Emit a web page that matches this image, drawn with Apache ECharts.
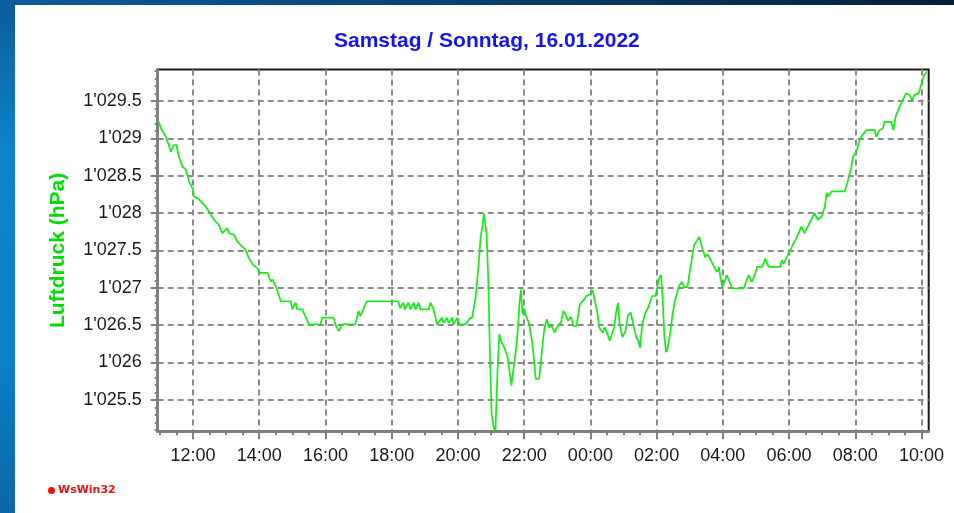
<!DOCTYPE html>
<html><head><meta charset="utf-8">
<script src="https://cdn.jsdelivr.net/npm/echarts@6/dist/echarts.min.js"></script>
<style>html,body{margin:0;padding:0;background:#fff}#c{width:954px;height:513px}</style>
</head><body><div id="c"></div>
<script>
const titleText = 'Samstag / Sonntag, 16.01.2022';
const yAxisName = 'Luftdruck (hPa)';
const watermark = 'WsWin32';

const times = [
'10:58','11:02','11:11','11:20','11:25','11:30','11:34','11:41','11:47','11:53','11:59',
'12:02','12:11','12:20','12:29','12:38','12:47','12:53','13:02','13:05','13:14','13:20','13:29','13:35','13:41','13:48','13:57',
'14:00','14:15','14:21','14:24','14:30','14:39','14:57','15:00','15:06','15:09','15:18','15:30','15:51','15:54',
'16:15','16:18','16:24','16:30','16:54','17:00','17:03','17:15','18:12','18:15','18:21','18:24','18:30','18:34','18:40','18:43','18:49','18:52',
'19:07','19:10','19:16','19:22','19:31','19:34','19:40','19:43','19:50','19:52','19:59','20:03','20:14',
'20:20','20:26','20:29','20:32','20:35','20:38','20:41','20:44','20:47','20:50','20:52','20:55','20:58',
'21:01','21:05','21:08','21:12','21:15','21:18','21:24','21:30','21:34','21:37','21:41','21:45','21:48','21:51','21:54','21:57',
'22:00','22:03','22:09','22:15','22:18','22:21','22:27','22:30','22:34','22:37','22:41','22:45','22:50','22:55',
'23:01','23:07','23:11','23:16','23:19','23:25','23:29','23:35','23:41','23:47','23:53',
'00:01','00:04','00:08','00:13','00:16','00:22','00:26','00:31','00:35','00:43','00:47','00:50','00:53','00:58',
'01:04','01:08','01:13','01:16','01:19','01:23','01:27','01:30','01:34','01:39','01:45','01:52','01:58',
'02:05','02:08','02:11','02:14','02:17','02:20','02:24','02:29','02:34','02:41','02:46','02:50','02:56','02:59',
'03:04','03:08','03:13','03:17','03:20','03:23','03:28','03:32','03:37','03:44','03:50','03:53','03:56','03:59',
'04:04','04:07','04:11','04:17','04:38','04:43','04:47','04:52','04:58',
'05:02','05:11','05:17','05:23','05:44','05:47','05:50','05:56',
'06:02','06:07','06:13','06:18','06:22','06:28','06:34','06:40','06:46','06:52','06:59',
'07:05','07:08','07:11','07:17','07:41','07:47','07:53','07:56',
'08:02','08:08','08:11','08:20','08:35','08:38','08:44','08:50','08:53',
'09:05','09:09','09:13','09:20','09:26','09:32','09:38','09:43','09:47','09:55','09:59',
'10:05','10:10'
];
const pressure = [
1029.22,1029.13,1029.02,1028.82,1028.91,1028.91,1028.76,1028.62,1028.58,1028.42,1028.33,
1028.22,1028.18,1028.11,1028.02,1027.91,1027.84,1027.73,1027.80,1027.73,1027.71,1027.62,1027.55,1027.51,1027.40,1027.31,1027.26,
1027.20,1027.20,1027.08,1027.11,1027.02,1026.82,1026.82,1026.71,1026.80,1026.71,1026.71,1026.51,1026.51,1026.60,
1026.60,1026.51,1026.42,1026.51,1026.51,1026.69,1026.62,1026.82,1026.82,1026.73,1026.80,1026.71,1026.80,1026.71,1026.80,1026.71,1026.80,1026.71,
1026.71,1026.80,1026.71,1026.51,1026.60,1026.53,1026.60,1026.53,1026.60,1026.51,1026.60,1026.51,1026.51,
1026.58,1026.61,1026.74,1026.87,1027.10,1027.36,1027.67,1027.81,1027.99,1027.99,1027.72,1027.10,1026.11,
1025.31,1025.13,1025.09,1025.94,1026.38,1026.29,1026.20,1026.07,1025.85,1025.69,1025.94,1026.16,1026.38,1026.74,1026.98,1026.65,
1026.72,1026.63,1026.52,1026.25,1026.03,1025.78,1025.78,1025.98,1026.29,1026.47,1026.58,1026.47,1026.49,1026.40,
1026.49,1026.54,1026.69,1026.63,1026.56,1026.61,1026.49,1026.49,1026.78,1026.83,1026.89,
1026.92,1026.97,1026.83,1026.65,1026.47,1026.40,1026.47,1026.38,1026.29,1026.47,1026.69,1026.80,1026.51,1026.34,
1026.43,1026.63,1026.67,1026.69,1026.47,1026.34,1026.29,1026.20,1026.51,1026.65,1026.74,1026.89,1026.89,
1027.14,1027.17,1026.85,1026.36,1026.14,1026.19,1026.36,1026.65,1026.85,1027.03,1027.08,1027.01,1027.01,1027.17,
1027.39,1027.57,1027.63,1027.68,1027.61,1027.52,1027.41,1027.45,1027.39,1027.28,1027.21,1027.28,1027.12,1027.01,
1027.10,1027.17,1027.10,1026.99,1026.99,1027.10,1027.17,1027.08,1027.17,
1027.28,1027.28,1027.39,1027.28,1027.28,1027.37,1027.32,1027.41,
1027.50,1027.58,1027.66,1027.74,1027.82,1027.73,1027.82,1027.91,1028.00,1027.91,1027.95,
1028.09,1028.27,1028.22,1028.29,1028.29,1028.44,1028.62,1028.76,
1028.82,1028.98,1029.02,1029.11,1029.11,1029.02,1029.11,1029.13,1029.22,
1029.22,1029.11,1029.29,1029.42,1029.51,1029.60,1029.58,1029.51,1029.58,1029.60,1029.71,
1029.85,1029.89
];
const xTickLabels = ['12:00','14:00','16:00','18:00','20:00','22:00','00:00','02:00','04:00','06:00','08:00','10:00'];
const xMinorTicks = ['11:00','11:30','12:30','13:00','13:30','14:30','15:00','15:30','16:30','17:00','17:30','18:30','19:00','19:30','20:30','21:00','21:30','22:30','23:00','23:30','00:30','01:00','01:30','02:30','03:00','03:30','04:30','05:00','05:30','06:30','07:00','07:30','08:30','09:00','09:30'];
const yTickValues = [1025.5,1026,1026.5,1027,1027.5,1028,1028.5,1029,1029.5];
const yMinorTicks = [1025.1,1025.2,1025.3,1025.4,1025.6,1025.7,1025.8,1025.9,1026.1,1026.2,1026.3,1026.4,1026.6,1026.7,1026.8,1026.9,1027.1,1027.2,1027.3,1027.4,1027.6,1027.7,1027.8,1027.9,1028.1,1028.2,1028.3,1028.4,1028.6,1028.7,1028.8,1028.9,1029.1,1029.2,1029.3,1029.4,1029.6,1029.7,1029.8,1029.9];
const xRange = ['10:56','10:13'];
const yRange = [1025.08, 1029.92];

function toMinutes(arr){
  let off = 0, prev = -1;
  return arr.map(s => {
    const p = s.split(':').map(Number);
    let v = p[0]*60 + p[1] + off;
    if (v < prev) { off += 1440; v += 1440; }
    prev = v; return v;
  });
}
const tMin = toMinutes(times);
const data = tMin.map((t,i) => [t, pressure[i]]);
const xMajor = toMinutes(xTickLabels);
const xMinor = toMinutes(xMinorTicks);
const xr = toMinutes(xRange);
const fmtTime = v => { const m = ((Math.round(v) % 1440) + 1440) % 1440; const h = Math.floor(m/60), mm = m%60; return (h<10?'0':'')+h+':'+(mm<10?'0':'')+mm; };
const fmtP = v => { const r = Math.round(v*10)/10; let s = String(r); const parts = s.split('.'); let ip = parts[0]; if (ip.length > 3) ip = ip.slice(0, ip.length-3) + "'" + ip.slice(ip.length-3); return parts.length>1 ? ip+'.'+parts[1] : ip; };

const FONT = '"Liberation Sans", Arial, sans-serif';
const GRAY = '#808080';
const chart = echarts.init(document.getElementById('c'), null, {renderer:'canvas'});
chart.setOption({
  backgroundColor: '#ffffff',
  animation: false,
  title: {
    text: titleText, left: 334, top: 31, padding: 0,
    textStyle: {color:'#1414ee', fontSize: 21, fontWeight:'bold', fontFamily: FONT}
  },
  grid: {left: 157.7, top: 69.5, right: 25.3, bottom: 81.7, show: true, borderColor: '#1a1a1a', borderWidth: 2, backgroundColor: 'transparent'},
  xAxis: [{
    type: 'value', min: xr[0], max: xr[1], position: 'bottom', z: 3,
    axisLine: {show: true, onZero: false, lineStyle: {color: GRAY, width: 3}},
    axisTick: {show: true, customValues: xMajor, length: 8, lineStyle: {color: GRAY, width: 2}},
    axisLabel: {customValues: xMajor, formatter: fmtTime, margin: 16, fontSize: 18, color: '#1a1a1a', fontFamily: FONT},
    splitLine: {show: true, lineStyle: {color: '#8a8a8a', width: 2, type: [6,4]}}
  },{
    type: 'value', min: xr[0], max: xr[1], position: 'bottom', gridIndex: 0, z: 3,
    axisLine: {show: false, onZero: false},
    axisTick: {show: true, customValues: xMinor, length: 4, lineStyle: {color: GRAY, width: 2}},
    axisLabel: {show: false},
    splitLine: {show: false}
  }],
  yAxis: [{
    type: 'value', min: yRange[0], max: yRange[1], position: 'left', z: 3,
    axisLine: {show: true, onZero: false, lineStyle: {color: GRAY, width: 3}},
    axisTick: {show: true, customValues: yTickValues, length: 7, lineStyle: {color: GRAY, width: 2}},
    axisLabel: {customValues: yTickValues, formatter: fmtP, margin: 16, fontSize: 18, color: '#1a1a1a', fontFamily: FONT},
    splitLine: {show: true, lineStyle: {color: '#8a8a8a', width: 2, type: [6,4]}},
    name: yAxisName, nameLocation: 'middle', nameRotate: 90, nameGap: 89,
    nameTextStyle: {color: '#00dd00', fontSize: 21, fontWeight: 'bold', fontFamily: FONT}
  },{
    type: 'value', min: yRange[0], max: yRange[1], position: 'left', gridIndex: 0, z: 3,
    axisLine: {show: false, onZero: false},
    axisTick: {show: true, customValues: yMinorTicks, length: 3, lineStyle: {color: GRAY, width: 2}},
    axisLabel: {show: false},
    splitLine: {show: false}
  }],
  series: [{
    type: 'line', data: data, xAxisIndex: 0, yAxisIndex: 0,
    symbol: 'none', lineStyle: {color: '#11ee11', width: 1.7}, z: 4
  }],
  graphic: [
    {type:'rect', shape:{x:0,y:0,width:954,height:5}, style:{fill: new echarts.graphic.LinearGradient(0,0,1,0,[{offset:0,color:'#0b5d9d'},{offset:0.5,color:'#08416f'},{offset:1,color:'#051f38'}])}},
    {type:'rect', shape:{x:0,y:0,width:15,height:513}, style:{fill: new echarts.graphic.LinearGradient(0,0,0,1,[{offset:0,color:'#0b5c9c'},{offset:0.3,color:'#0e84cd'},{offset:0.7,color:'#0c80c8'},{offset:1,color:'#0a66aa'}])}},
    {type:'circle', shape:{cx:51.5, cy:490.5, r:3.5}, style:{fill:'#ee1111'}},
    {type:'text', x:58, y:490.5, style:{text: watermark, fill:'#ee1111', font:'bold 11px "DejaVu Sans", sans-serif', verticalAlign:'middle'}}
  ]
});
</script></body></html>
